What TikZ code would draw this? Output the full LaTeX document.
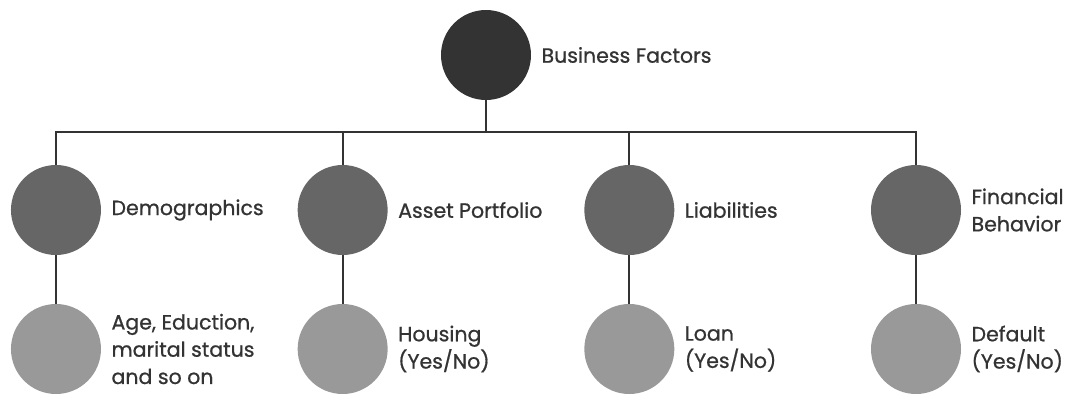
\documentclass[tikz,border=0pt]{standalone}
\usepackage{fontspec}
\setmainfont{Poppins}
\newfontfamily\labelfont[FakeBold=0.8]{Poppins}
\usepackage{xcolor}
\usepackage{tikz}
\usetikzlibrary{positioning}

\definecolor{inkdark}{HTML}{333333}
\definecolor{inkmid}{HTML}{666666}
\definecolor{inklight}{HTML}{999999}

\begin{document}
\begin{tikzpicture}[
    every node/.style={font=\labelfont\fontsize{14.6}{19.4}\selectfont, text=inkdark},
    ball/.style={circle, minimum size=22.5mm, inner sep=0pt},
    top/.style={ball, fill=inkdark},
    mid/.style={ball, fill=inkmid},
    leaf/.style={ball, fill=inklight},
    txt/.style={align=left, inner sep=0pt, label distance=2.5mm},
    level 1/.style={sibling distance=71.67mm, level distance=38.75mm},
    level 2/.style={level distance=34.75mm},
    edge from parent/.style={draw, line width=1.4pt, inkdark},
    edge from parent path={(\tikzparentnode.south) -- ++(0,-8mm) -| (\tikzchildnode.north)}
  ]
  \useasboundingbox (-12.15,1.375) rectangle (14.95,-8.75);

  \node[top, label={[txt]right:Business Factors}] (factors) {}
    child {node[mid, label={[txt]right:Demographics}] (demo) {}
        child {node[leaf, label={[txt]right:{Age, Eduction,\\marital status\\and so on}}] (age) {}}
    }
    child {node[mid, label={[txt]right:Asset Portfolio}] (asset) {}
        child {node[leaf, label={[txt]right:{Housing\\(Yes/No)}}] (housing) {}}
    }
    child {node[mid, label={[txt]right:Liabilities}] (liab) {}
        child {node[leaf, label={[txt]right:{Loan\\(Yes/No)}}] (loan) {}}
    }
    child {node[mid, label={[txt]right:{Financial\\Behavior}}] (behav) {}
        child {node[leaf, label={[txt]right:{Default\\(Yes/No)}}] (default) {}}
    };
\end{tikzpicture}
\end{document}
